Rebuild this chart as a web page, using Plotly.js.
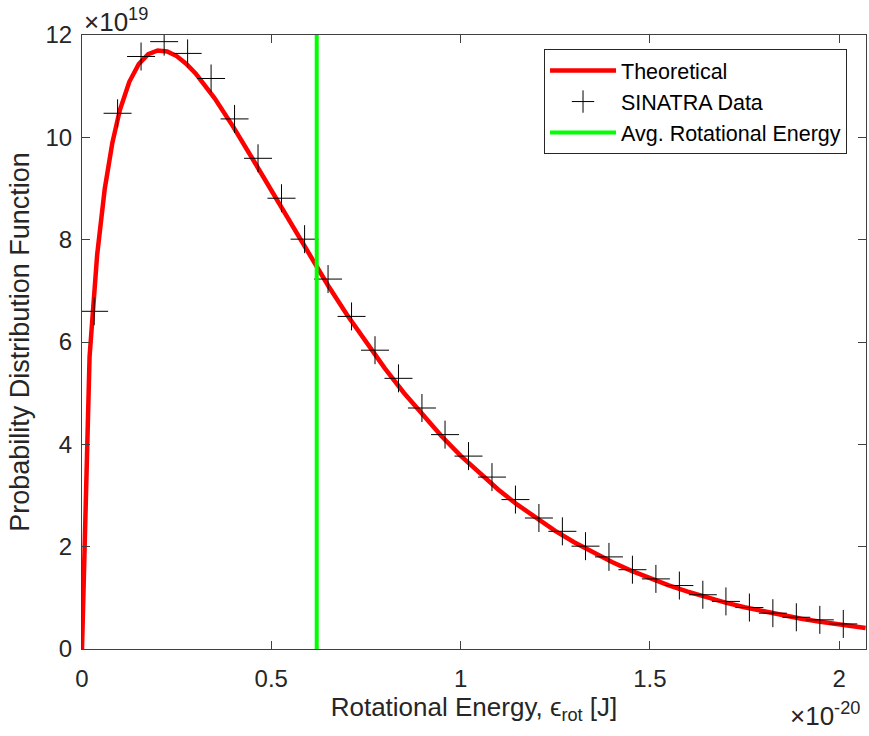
<!DOCTYPE html>
<html>
<head>
<meta charset="utf-8">
<script src="https://cdn.plot.ly/plotly-3.0.1.min.js"></script>
<style>html,body{margin:0;padding:0;background:#fff;}#chart{width:869px;height:736px;}</style>
</head>
<body>
<div id="chart"></div>
<script>
// Theoretical curve (x in 1e-20 J, y in 1e19)
var theoryX = [0, 0.02, 0.04, 0.06, 0.08, 0.10, 0.125, 0.15, 0.175, 0.20, 0.225, 0.25, 0.275, 0.30, 0.35, 0.40, 0.45, 0.50, 0.55, 0.60, 0.65, 0.70, 0.75, 0.80, 0.85, 0.90, 0.95, 1.00, 1.05, 1.10, 1.15, 1.20, 1.25, 1.30, 1.35, 1.40, 1.45, 1.50, 1.55, 1.60, 1.65, 1.70, 1.75, 1.80, 1.85, 1.90, 1.95, 2.00, 2.07];
var theoryY = [0, 5.716, 7.702, 8.988, 9.888, 10.533, 11.086, 11.433, 11.624, 11.698, 11.679, 11.588, 11.440, 11.249, 10.767, 10.200, 9.586, 8.955, 8.322, 7.702, 7.104, 6.533, 5.992, 5.484, 5.009, 4.568, 4.158, 3.780, 3.433, 3.113, 2.821, 2.553, 2.309, 2.087, 1.884, 1.701, 1.533, 1.382, 1.245, 1.121, 1.009, 0.907, 0.815, 0.733, 0.658, 0.591, 0.531, 0.476, 0.409];

// SINATRA data points
var dataX = [0.032, 0.094, 0.156, 0.217, 0.279, 0.341, 0.403, 0.465, 0.527, 0.588, 0.650, 0.712, 0.774, 0.836, 0.898, 0.959, 1.021, 1.083, 1.145, 1.207, 1.269, 1.330, 1.392, 1.454, 1.516, 1.578, 1.640, 1.701, 1.763, 1.825, 1.887, 1.949, 2.011];
var dataY = [6.60, 10.47, 11.58, 11.87, 11.64, 11.15, 10.36, 9.59, 8.81, 8.01, 7.23, 6.50, 5.84, 5.29, 4.71, 4.19, 3.77, 3.36, 2.92, 2.56, 2.30, 2.01, 1.80, 1.55, 1.37, 1.24, 1.06, 0.93, 0.81, 0.70, 0.62, 0.57, 0.49];

// Average rotational energy
var avgEnergy = 0.62;
var avgLineY = [0, 12];

var seriesNames = ["Theoretical", "SINATRA Data", "Avg. Rotational Energy"];
var xTicks = [0, 0.5, 1, 1.5, 2];
var xTickText = ["0", "0.5", "1", "1.5", "2"];
var yTicks = [0, 2, 4, 6, 8, 10, 12];

var FONT = "Liberation Sans, Arial, Helvetica, sans-serif";
var TXT = "#262626";

var traces = [
  {x: theoryX, y: theoryY, type: "scatter", mode: "lines", name: seriesNames[0],
   line: {color: "#ff0000", width: 4.5}},
  {x: dataX, y: dataY, type: "scatter", mode: "markers", name: seriesNames[1],
   marker: {symbol: "cross-thin-open", size: 20, line: {color: "#000000", width: 1}, color: "#000000"}},
  {x: [avgEnergy, avgEnergy], y: avgLineY, type: "scatter", mode: "lines", name: seriesNames[2],
   line: {color: "#00ff00", width: 4}}
];

var axisCommon = {
  showgrid: false, zeroline: false, showline: true, linecolor: "#404040", linewidth: 1,
  mirror: "allticks", ticks: "inside", ticklen: 8, tickwidth: 1, tickcolor: "#404040",
  tickfont: {family: FONT, size: 24, color: TXT}
};

var layout = {
  width: 869, height: 736,
  margin: {l: 82, r: 3, t: 35, b: 87},
  paper_bgcolor: "#ffffff", plot_bgcolor: "#ffffff",
  font: {family: FONT, color: TXT},
  showlegend: true,
  xaxis: Object.assign({}, axisCommon, {
    range: [0, 2.071], tickvals: xTicks, ticktext: xTickText,
    ticklabelstandoff: 8,
    title: {text: "Rotational Energy, ϵ<sub>rot</sub> [J]", font: {family: FONT, size: 26, color: TXT}, standoff: 0}
  }),
  yaxis: Object.assign({}, axisCommon, {
    range: [0, 12], tickvals: yTicks,
    ticklabelstandoff: 4,
    title: {text: "Probability Distribution Function", font: {family: FONT, size: 27, color: TXT}, standoff: 8}
  }),
  legend: {
    x: 0.9758, xanchor: "right", y: 0.977, yanchor: "top",
    bgcolor: "#ffffff", bordercolor: "#262626", borderwidth: 1,
    font: {family: FONT, size: 21.5, color: "#000000"},
    itemwidth: 66,
    tracegroupgap: 0
  },
  annotations: [
    {xref: "paper", yref: "paper", x: 0, y: 1, xanchor: "left", yanchor: "bottom", yshift: -4,
     text: "×10<sup>19</sup>", showarrow: false, font: {family: FONT, size: 26, color: TXT}},
    {xref: "paper", yref: "paper", x: 1, y: 0, xanchor: "right", yanchor: "top", xshift: -4, yshift: -47,
     text: "×10<sup>-20</sup>", showarrow: false, font: {family: FONT, size: 26, color: TXT}}
  ]
};

Plotly.newPlot("chart", traces, layout, {displayModeBar: false, staticPlot: true});
</script>
</body>
</html>
